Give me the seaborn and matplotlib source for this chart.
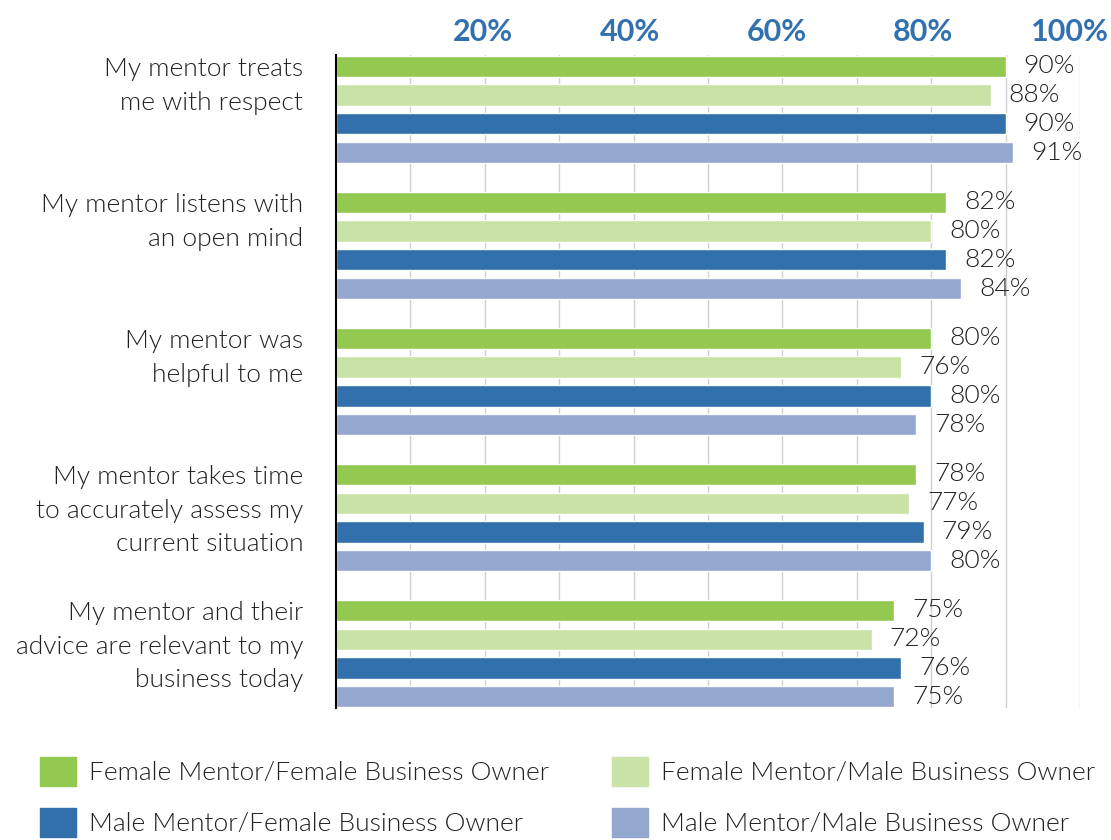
import matplotlib
matplotlib.use('Agg')
import seaborn as sns
import matplotlib.pyplot as plt
import pandas as pd
from matplotlib.patches import Patch

# data
statements = ['My mentor treats\nme with respect',
              'My mentor listens with\nan open mind',
              'My mentor was\nhelpful to me',
              'My mentor takes time\nto accurately assess my\ncurrent situation',
              'My mentor and their\nadvice are relevant to my\nbusiness today']
pairs = ['Female Mentor/Female Business Owner',
         'Female Mentor/Male Business Owner',
         'Male Mentor/Female Business Owner',
         'Male Mentor/Male Business Owner']
fem_fem = [90, 82, 80, 78, 75]
fem_male = [88, 80, 76, 77, 72]
male_fem = [90, 82, 80, 79, 76]
male_male = [91, 84, 78, 80, 75]
colors = ['#93C951', '#C9E2A5', '#3270AC', '#94A8CF']
tick_vals = [20, 40, 60, 80, 100]

rows = []
for pair, vals in zip(pairs, [fem_fem, fem_male, male_fem, male_male]):
    for s, v in zip(statements, vals):
        rows.append({'statement': s, 'pair': pair, 'value': v})
df = pd.DataFrame(rows)

sns.set_style('white')
plt.rcParams['font.family'] = ['Lato', 'DejaVu Sans']
txt_col = '#222222'

fig = plt.figure(figsize=(11.11, 8.4), dpi=100)
ax = fig.add_axes([336/1111, 1-708/840, (1080-336)/1111, (708-55)/840])

sns.barplot(data=df, y='statement', x='value', hue='pair', orient='h',
            order=statements, hue_order=pairs, palette=colors,
            width=0.85, gap=0.27, legend=False, ax=ax, saturation=1)

ax.set_xlim(0, 100)
ax.set_ylim(4.4, -0.4)
ax.set_xlabel('')
ax.set_ylabel('')

# value labels
for cont in ax.containers:
    ax.bar_label(cont, labels=[f'{int(round(b.get_width()))}%' for b in cont],
                 padding=13, fontsize=19, color=txt_col, fontweight=300)

# top axis labels (drawn as text so 100% stays inside the figure)
ax.set_xticks(range(10, 101, 10))
ax.set_xticklabels([])
ax.tick_params(axis='x', length=0)
for t in tick_vals:
    ax.text(t - t/75, 1.0 + 23/653, f'{t}%', transform=ax.get_xaxis_transform(),
            ha='center', va='center', color='#3271B0', fontsize=22,
            fontweight='bold')
ax.grid(axis='x', color='#CFCFCF', linewidth=1)
ax.set_axisbelow(True)

# category labels, top aligned with each group
ax.set_yticks([])
for i, s in enumerate(statements):
    ax.text(-0.044, i - 0.385, s, transform=ax.get_yaxis_transform(),
            ha='right', va='top', fontsize=19, fontweight=300,
            color=txt_col, linespacing=1.5, multialignment='right')

for sp in ['top', 'right', 'bottom']:
    ax.spines[sp].set_visible(False)
ax.spines['left'].set_color('black')
ax.spines['left'].set_linewidth(1.5)

# legend in two columns
handles = [Patch(color=c) for c in colors]
for col, xpos in enumerate([40, 612]):
    leg = fig.legend(handles[col::2], pairs[col::2], loc='upper left',
                     bbox_to_anchor=(xpos/1111, 1-757/840), frameon=False,
                     handlelength=1.35, handleheight=1.3,
                     handletextpad=0.5, labelspacing=0.85, borderpad=0,
                     borderaxespad=0, prop={'weight': 300, 'size': 19})
    for t in leg.get_texts():
        t.set_color(txt_col)

fig.savefig('out.png', dpi=100)
